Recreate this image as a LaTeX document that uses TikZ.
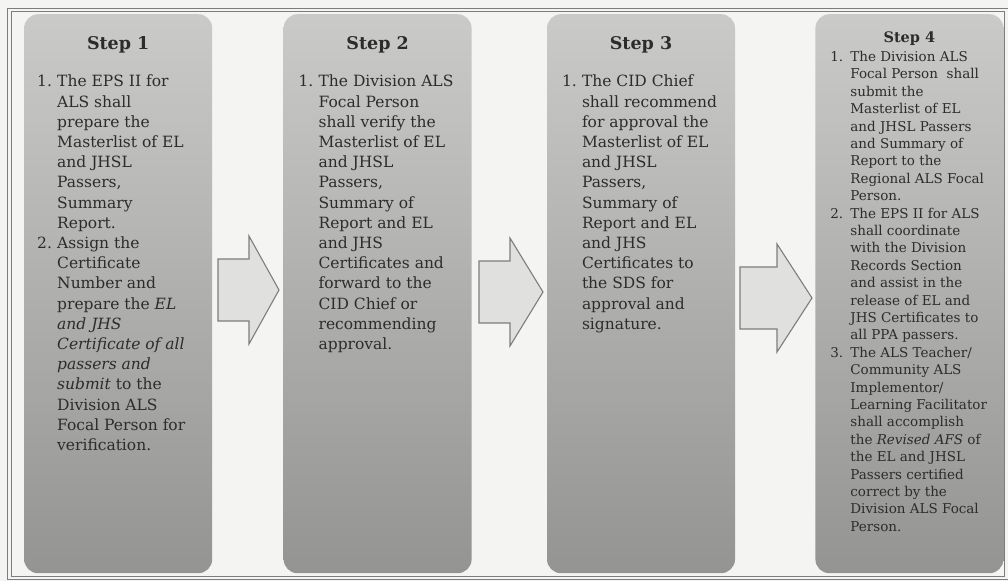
\documentclass[tikz,border=0pt]{standalone}
\usepackage{fontspec}
\setmainfont{DejaVu Serif}
\usetikzlibrary{positioning}

\definecolor{pagebg}{RGB}{244,244,242}
\definecolor{boxtop}{RGB}{202,202,200}
\definecolor{boxbot}{RGB}{148,148,146}
\definecolor{inkgray}{RGB}{44,44,44}
\definecolor{arrowfill}{RGB}{224,224,222}
\definecolor{framegray}{RGB}{125,125,125}

\newcommand{\stepnum}[1]{\makebox[20pt][l]{#1.}}
\newcommand{\indline}{\hspace*{20pt}}

\begin{document}
\begin{tikzpicture}[x=1pt,y=-1pt,
	stepbox/.style={rounded corners=14pt, top color=boxtop, bottom color=boxbot,
		minimum width=188pt, minimum height=559pt, inner sep=0pt},
	headtext/.style={inner sep=0pt, text=inkgray, font=\fontsize{17.5}{20}\selectfont\bfseries},
	itemtext/.style={inner sep=0pt, align=left, text=inkgray, font=\fontsize{15.5}{20.2}\selectfont},
	smallhead/.style={headtext, font=\fontsize{14.5}{17}\selectfont\bfseries},
	smalltext/.style={itemtext, font=\fontsize{13.5}{17.4}\selectfont},
	bigarrow/.style={draw=framegray, fill=arrowfill, line width=1.1pt, line join=miter}]

	\fill[pagebg] (0,0) rectangle (1008,581);
	\useasboundingbox (0,0) rectangle (1008,581);
	\draw[framegray, line width=0.9pt, double=pagebg, double distance=2.6pt] (9.5,10) rectangle (1006.5,578);

	\node[stepbox, anchor=north west] (box1) at (24,14) {};
	\node[stepbox, right=71pt of box1] (box2) {};
	\node[stepbox, right=75pt of box2] (box3) {};
	\node[stepbox, right=80pt of box3] (box4) {};

	\node[headtext, below=22pt of box1.north] (head1) {Step 1};
	\node[headtext, below=22pt of box2.north] (head2) {Step 2};
	\node[headtext, below=22pt of box3.north] (head3) {Step 3};
	\node[smallhead, below=18pt of box4.north] (head4) {Step 4};

	\node[itemtext, below right=61pt and 13pt of box1.north west] (list1) {%
		\stepnum{1}The EPS II for\\ \indline ALS shall\\ \indline prepare the\\
		\indline Masterlist of EL\\ \indline and JHSL\\ \indline Passers,\\
		\indline Summary\\ \indline Report.\\
		\stepnum{2}Assign the\\ \indline Certificate\\ \indline Number and\\
		\indline prepare the \textit{EL}\\ \indline \textit{and JHS}\\
		\indline \textit{Certificate of all}\\ \indline \textit{passers and}\\
		\indline \textit{submit} to the\\ \indline Division ALS\\
		\indline Focal Person for\\ \indline verification.};

	\node[itemtext, below right=61pt and 15pt of box2.north west] (list2) {%
		\stepnum{1}The Division ALS\\ \indline Focal Person\\ \indline shall verify the\\
		\indline Masterlist of EL\\ \indline and JHSL\\ \indline Passers,\\
		\indline Summary of\\ \indline Report and EL\\ \indline and JHS\\
		\indline Certificates and\\ \indline forward to the\\ \indline CID Chief or\\
		\indline recommending\\ \indline approval.};

	\node[itemtext, below right=61pt and 15pt of box3.north west] (list3) {%
		\stepnum{1}The CID Chief\\ \indline shall recommend\\ \indline for approval the\\
		\indline Masterlist of EL\\ \indline and JHSL\\ \indline Passers,\\
		\indline Summary of\\ \indline Report and EL\\ \indline and JHS\\
		\indline Certificates to\\ \indline the SDS for\\ \indline approval and\\
		\indline signature.};

	\node[smalltext, below right=37pt and 15pt of box4.north west] (list4) {%
		\stepnum{1}The Division ALS\\ \indline Focal Person\ \ shall\\ \indline submit the\\
		\indline Masterlist of EL\\ \indline and JHSL Passers\\ \indline and Summary of\\
		\indline Report to the\\ \indline Regional ALS Focal\\ \indline Person.\\
		\stepnum{2}The EPS II for ALS\\ \indline shall coordinate\\ \indline with the Division\\
		\indline Records Section\\ \indline and assist in the\\ \indline release of EL and\\
		\indline JHS Certificates to\\ \indline all PPA passers.\\
		\stepnum{3}The ALS Teacher/\\ \indline Community ALS\\ \indline Implementor/\\
		\indline Learning Facilitator\\ \indline shall accomplish\\
		\indline the \textit{Revised AFS} of\\ \indline the EL and JHSL\\
		\indline Passers certified\\ \indline correct by the\\
		\indline Division ALS Focal\\ \indline Person.};

	% block arrows between the steps: left x / centre y / head x / tip x
	\foreach \x/\y/\h/\t in {218/290/31/61, 479/292/31/64, 740/298/37/72}
		\draw[bigarrow] (\x,\y-31) -- (\x+\h,\y-31) -- (\x+\h,\y-54) -- (\x+\t,\y)
			-- (\x+\h,\y+54) -- (\x+\h,\y+31) -- (\x,\y+31) -- cycle;

\end{tikzpicture}
\end{document}
